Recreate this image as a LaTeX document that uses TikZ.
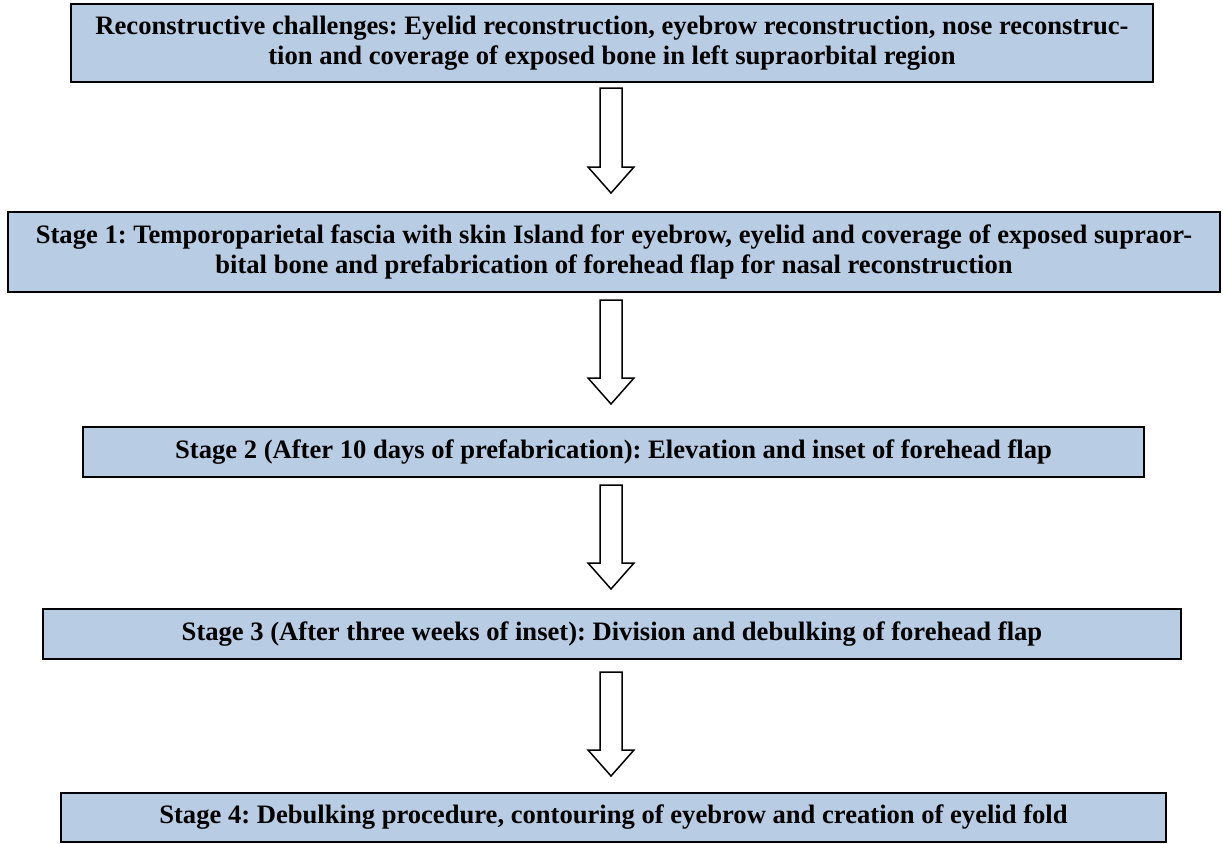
\documentclass[tikz,border=0pt]{standalone}
\usepackage{fontspec}
\setmainfont{Liberation Serif}
\usetikzlibrary{calc}
\definecolor{boxfill}{RGB}{184,204,228}
\tikzset{
  stagebox/.style={draw=black, line width=2pt, fill=boxfill, inner sep=0pt,
    align=center, font=\fontsize{26.6}{30}\selectfont\bfseries\frenchspacing},
  harrow/.style={draw=black, line width=1.5pt, fill=white, line join=miter}
}
\newcommand\hollowarrow[2]{%
  \draw[harrow] let \p1=(#1), \p2=(#2) in
    (\x1-11pt,\y1) -- (\x1-11pt,\y2+26pt) -- (\x1-23pt,\y2+26pt) -- (\x2,\y2)
    -- (\x1+23pt,\y2+26pt) -- (\x1+11pt,\y2+26pt) -- (\x1+11pt,\y1) -- cycle;}
\begin{document}
\begin{tikzpicture}[x=1pt,y=1pt]
\useasboundingbox (0,0) rectangle (1223,-843);
\node[stagebox, minimum width=1082pt, minimum height=78pt] (b1) at (612,-43)
  {Reconstructive challenges: Eyelid reconstruction, eyebrow reconstruction, nose reconstruc-\\
   tion and coverage of exposed bone in left supraorbital region};
\node[stagebox, minimum width=1212pt, minimum height=80pt] (b2) at (614,-252)
  {Stage 1: Temporoparietal fascia with skin Island for eyebrow, eyelid and coverage of exposed supraor-\\
   bital bone and prefabrication of forehead flap for nasal reconstruction};
\node[stagebox, minimum width=1061pt, minimum height=50pt] (b3) at (613.5,-452)
  {Stage 2 (After 10 days of prefabrication): Elevation and inset of forehead flap};
\node[stagebox, minimum width=1138pt, minimum height=50pt] (b4) at (612,-634)
  {Stage 3 (After three weeks of inset): Division and debulking of forehead flap};
\node[stagebox, minimum width=1105pt, minimum height=49pt] (b5) at (613.5,-817.5)
  {Stage 4: Debulking procedure, contouring of eyebrow and creation of eyelid fold};
\coordinate (t1) at (611,-88);  \coordinate (e1) at (611,-193);
\coordinate (t2) at (611,-300); \coordinate (e2) at (611,-404);
\coordinate (t3) at (611,-485); \coordinate (e3) at (611,-589);
\coordinate (t4) at (611,-672); \coordinate (e4) at (611,-776);
\hollowarrow{t1}{e1}
\hollowarrow{t2}{e2}
\hollowarrow{t3}{e3}
\hollowarrow{t4}{e4}
\end{tikzpicture}
\end{document}
